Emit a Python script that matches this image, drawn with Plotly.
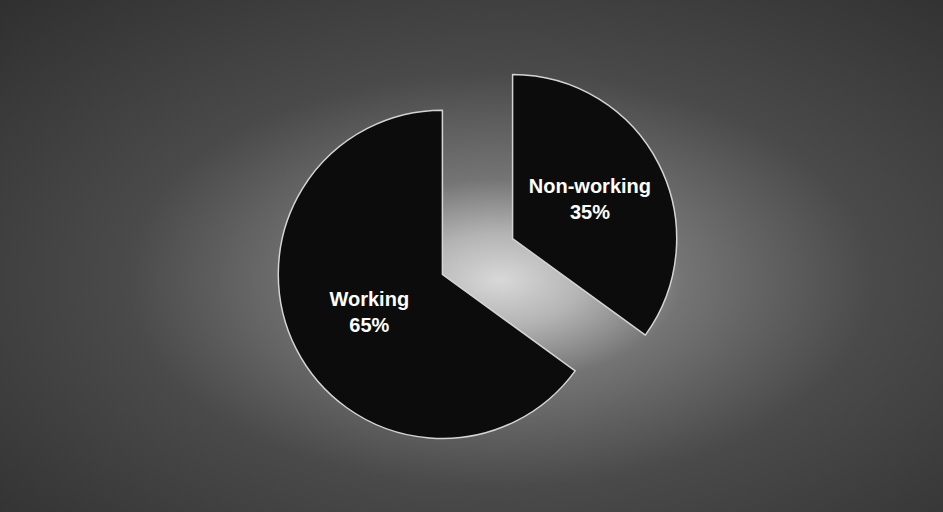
import plotly.graph_objects as go

labels = ["Non-working", "Working"]
values = [35, 65]
pulls = [0.24, 0.24]

W, H = 943, 512

fig = go.Figure()

# background glow (decorative, radial gradient)
fig.add_trace(go.Scatter(
    x=[-330, 1330, 1330, -330, -330],
    y=[-180, -180, 740, 740, -180],
    mode="lines", fill="toself",
    line=dict(width=0, color="rgba(0,0,0,0)"),
    fillgradient=dict(type="radial", colorscale=[
        [0.0, "#d8d8d8"], [0.1, "#b4b4b4"], [0.22, "#747474"],
        [0.45, "#4a4a4a"], [1.0, "#262626"]]),
    hoverinfo="skip", showlegend=False,
))

fig.add_trace(go.Pie(
    labels=labels, values=values, pull=pulls,
    sort=False, direction="clockwise", rotation=0,
    marker=dict(colors=["#0c0c0c", "#0c0c0c"], line=dict(color="#d4d4d4", width=1.5)),
    texttemplate="%{label}<br>%{percent:.0%}",
    textposition="inside", insidetextorientation="horizontal",
    textfont=dict(family="Liberation Sans, Arial, sans-serif", size=20, color="white", weight="bold"),
    domain=dict(x=[12 / W, 1], y=[52 / H, 459 / H]),
    showlegend=False, hoverinfo="label+percent",
))

fig.update_layout(
    width=W, height=H,
    margin=dict(l=0, r=0, t=0, b=0),
    paper_bgcolor="#3a3a3a", plot_bgcolor="#3a3a3a",
    xaxis=dict(range=[0, W], visible=False, fixedrange=True, domain=[0, 1]),
    yaxis=dict(range=[H, 0], visible=False, fixedrange=True, domain=[0, 1]),
)

fig.write_html("out.html")
